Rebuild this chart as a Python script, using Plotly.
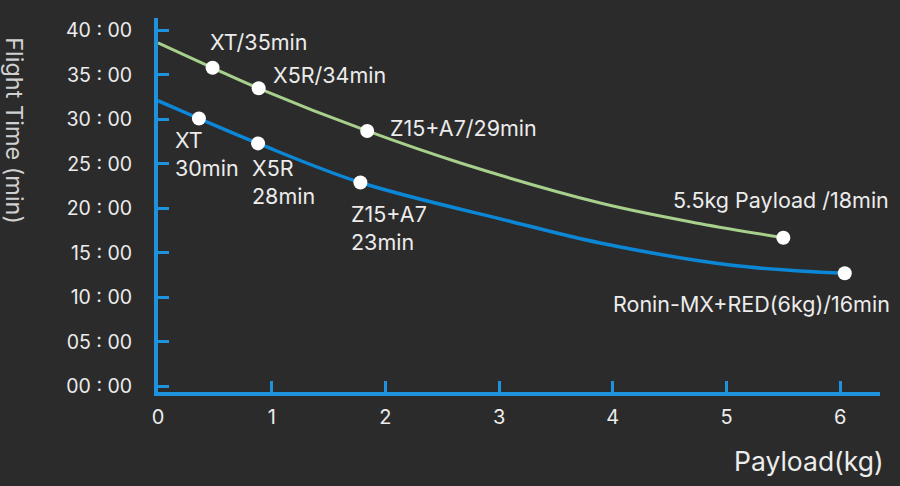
import plotly.graph_objects as go

# curve traced through the plotted points (payload kg, flight time min)
green_x = [0, 0.48, 0.885, 1.84, 2.66, 3.89, 4.76, 5.5]
green_y = [38.6, 35.8, 33.5, 28.7, 25.1, 20.6, 18.3, 16.7]
blue_x = [0, 0.36, 0.88, 1.78, 3.11, 3.89, 5.05, 6.04]
blue_y = [32.1, 30.1, 27.3, 22.9, 18.5, 16.1, 13.6, 12.7]

# labelled points
green_pts_x = [0.48, 0.885, 1.84, 5.5]
green_pts_y = [35.8, 33.5, 28.7, 16.7]
green_labels = ["XT/35min", "X5R/34min", "Z15+A7/29min", "5.5kg Payload /18min"]

blue_pts_x = [0.36, 0.88, 1.78, 6.04]
blue_pts_y = [30.1, 27.3, 22.9, 12.7]
blue_labels = ["XT<br>30min", "X5R<br>28min", "Z15+A7<br>23min", "Ronin-MX+RED(6kg)/16min"]

x_ticks = [0, 1, 2, 3, 4, 5, 6]
y_ticks = [0, 5, 10, 15, 20, 25, 30, 35, 40]
y_ticktext = ["00 : 00", "05 : 00", "10 : 00", "15 : 00", "20 : 00",
              "25 : 00", "30 : 00", "35 : 00", "40 : 00"]

BG = "#2b2b2b"
AXIS = "#1e92dc"
BLUE = "#0c87d6"
GREEN = "#a6d08b"
TXT = "#ececec"
FONT = "Inter"

fig = go.Figure()

fig.add_trace(go.Scatter(x=green_x, y=green_y, mode="lines",
                         line=dict(color=GREEN, width=3, shape="spline", smoothing=1.0),
                         hoverinfo="skip"))
fig.add_trace(go.Scatter(x=blue_x, y=blue_y, mode="lines",
                         line=dict(color=BLUE, width=3.5, shape="spline", smoothing=1.0),
                         hoverinfo="skip"))
fig.add_trace(go.Scatter(x=green_pts_x + blue_pts_x, y=green_pts_y + blue_pts_y,
                         mode="markers", marker=dict(color="white", size=14),
                         cliponaxis=False))

# label offsets in pixels from each point
green_off = [(-5, 26, "left"), (12, 13, "left"), (21, 3, "left"), (108, 38, "right")]
blue_off = [(-26, -35, "left"), (-8, -39, "left"), (-11, -45.5, "left"), (47, -31, "right")]

for px, py, lab, (dx, dy, anc) in zip(green_pts_x + blue_pts_x,
                                       green_pts_y + blue_pts_y,
                                       green_labels + blue_labels,
                                       green_off + blue_off):
    fig.add_annotation(x=px, y=py, text=lab, showarrow=False,
                       xanchor=anc, yanchor="middle", align="left",
                       xshift=dx, yshift=dy,
                       font=dict(family=FONT, size=21.5, color=TXT))

fig.add_annotation(text="Flight Time (min)", xref="paper", yref="paper",
                   x=-0.198, y=0.70, textangle=90, showarrow=False,
                   xanchor="center", yanchor="middle",
                   font=dict(family=FONT, size=23.5, color="#d0d0d0"))
fig.add_annotation(text="Payload(kg)", xref="paper", yref="paper",
                   x=1.008, y=-0.185, showarrow=False,
                   xanchor="right", yanchor="middle",
                   font=dict(family=FONT, size=26.5, color=TXT))

fig.update_xaxes(range=[0, 6.35], tickvals=x_ticks, showgrid=False, zeroline=False,
                 showline=True, linecolor=AXIS, linewidth=4,
                 ticks="inside", ticklen=11, tickwidth=3, tickcolor=AXIS,
                 ticklabelstandoff=4,
                 tickfont=dict(family=FONT, size=20, color=TXT))
fig.update_yaxes(range=[-0.65, 41.4], tickvals=y_ticks, ticktext=y_ticktext,
                 showgrid=False, zeroline=False,
                 showline=True, linecolor=AXIS, linewidth=4,
                 ticks="inside", ticklen=11, tickwidth=3, tickcolor=AXIS,
                 ticklabelstandoff=18,
                 tickfont=dict(family=FONT, size=19.5, color=TXT))

fig.update_layout(width=900, height=486, showlegend=False,
                  paper_bgcolor=BG, plot_bgcolor=BG,
                  margin=dict(l=158, r=20, t=18, b=94))

fig.write_html("out.html", config={"displayModeBar": False},
               post_script="document.body.style.margin='0';")
